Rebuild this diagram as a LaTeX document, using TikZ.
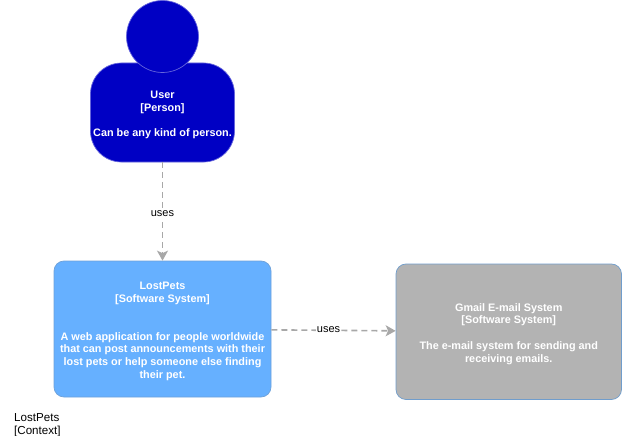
\documentclass[tikz,border=0pt]{standalone}
\usepackage{fontspec}
\setmainfont{Liberation Sans}
\usepackage{xcolor}
\usetikzlibrary{arrows.meta}
\definecolor{personblue}{HTML}{0000C4}
\definecolor{systemblue}{HTML}{66B0FF}
\definecolor{extgray}{HTML}{B3B3B3}
\definecolor{edgegray}{HTML}{A8A8A8}
\newcommand{\boxtop}{\rule{0pt}{12pt}}
\tikzset{
  c4box/.style={draw=#1, line width=0.7pt, align=center, text=white, inner sep=0pt,
    font=\fontsize{10.85}{12.7}\selectfont\bfseries},
  uses/.style={draw=edgegray, line width=1.6pt, dash pattern=on 6pt off 4pt,
    -{Stealth[inset=2.5pt,length=10pt,width=11pt]}},
  useslabel/.style={fill=white, inner sep=1pt, font=\fontsize{11}{12}\selectfont}
}
\begin{document}
\begin{tikzpicture}[x=1pt,y=-1pt]
    \useasboundingbox (0,0) rectangle (622,436);

    % Person
    \node[c4box=personblue!60!white, fill=personblue, rounded corners=31pt,
      minimum width=144pt, minimum height=99pt] (user) at (162.5,112.5)
      {\boxtop User\\{}[Person]\\ \\Can be any kind of person.};
    \node[draw=personblue!60!white, line width=0.7pt, fill=personblue, circle,
      minimum size=72pt, inner sep=0pt] (userhead) at (162.5,36.5) {};

    % Systems
    \node[c4box=systemblue!70!gray, fill=systemblue, rounded corners=10pt,
      minimum width=217pt, minimum height=136pt] (lostpets) at (162.5,329)
      {\boxtop LostPets\\{}[Software System]\\ \\ \\A web application for people worldwide\\
       that can post announcements with their\\lost pets or help someone else finding\\their pet.};
    \node[c4box=systemblue!60!gray, fill=extgray, rounded corners=10pt,
      minimum width=225.5pt, minimum height=135.5pt] (gmail) at (508.75,331.75)
      {\boxtop Gmail E-mail System\\{}[Software System]\\ \\The e-mail system for sending and\\receiving emails.};

    % Connectors
    \draw[uses] (user) -- node[useslabel, yshift=-2.5pt] (usesa) {uses} (lostpets);
    \draw[uses] (lostpets) -- node[useslabel, pos=0.46, yshift=0.5pt] (usesb) {uses} (gmail);

    % Title
    \node[anchor=north west, align=left, inner sep=0pt,
      font=\fontsize{11.6}{13}\selectfont] (title) at (14,413.5) {LostPets\\{}[Context]};
\end{tikzpicture}
\end{document}
